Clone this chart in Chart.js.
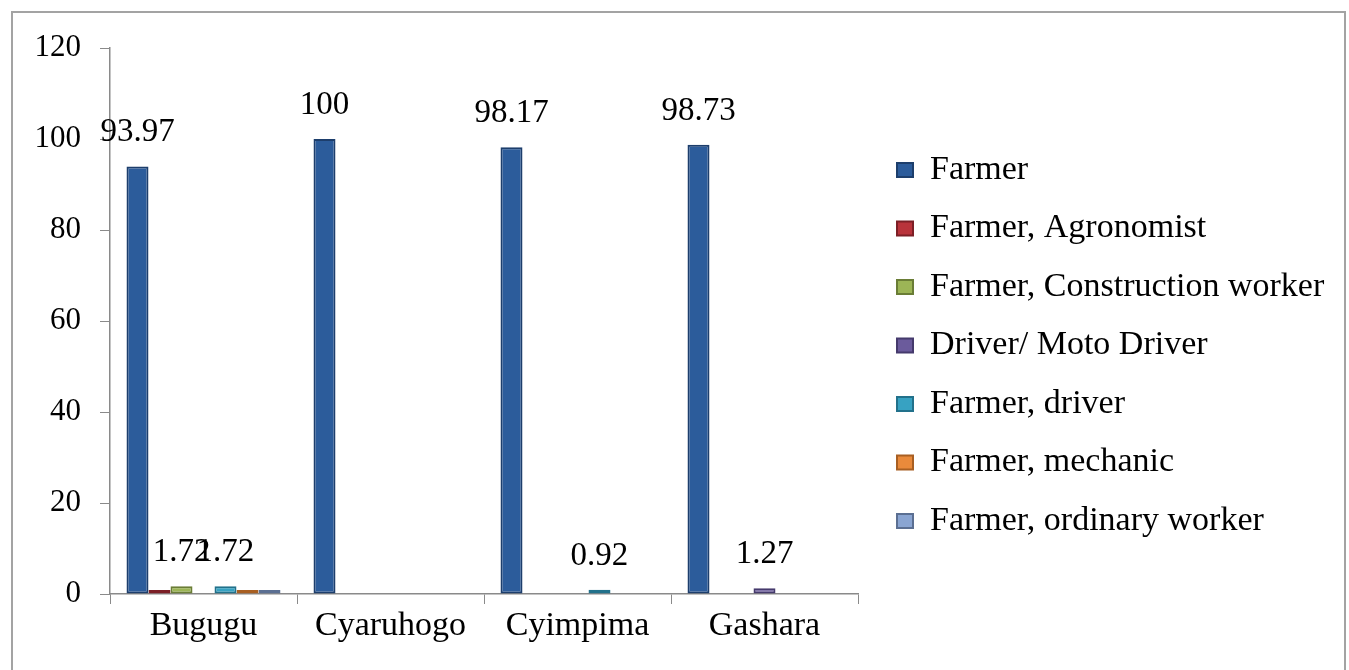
<!DOCTYPE html>
<html>
<head>
<meta charset="utf-8">
<title>Occupation by cell</title>
<script src="https://cdn.jsdelivr.net/npm/chart.js@4.4.0/dist/chart.umd.min.js"></script>
<style>
  html, body { margin: 0; padding: 0; background: #ffffff; overflow: hidden; }
  #wrap { position: relative; width: 1349px; height: 670px; }
  #wrap canvas { position: absolute; left: 0; top: 0; }
  #frame {
    position: absolute; left: 11px; top: 11px; width: 1335px; height: 700px;
    border: 2px solid #a3a3a3; box-sizing: border-box; pointer-events: none;
  }
</style>
</head>
<body>
<div id="wrap">
  <canvas id="chart" width="1349" height="670"></canvas>
  <div id="frame"></div>
</div>
<script>
// Cells along the x axis
const categories = ['Bugugu', 'Cyaruhogo', 'Cyimpima', 'Gashara'];

// Occupation shares (%) per cell
const farmer             = [93.97, 100, 98.17, 98.73];
const farmerAgronomist   = [0.86, 0, 0, 0];
const farmerConstruction = [1.72, 0, 0, 0];
const driverMoto         = [0, 0, 0, 1.27];
const farmerDriver       = [1.72, 0, 0.92, 0];
const farmerMechanic     = [0.86, 0, 0, 0];
const farmerOrdinary     = [0.86, 0, 0, 0];

// Series names as they appear in the legend
const seriesNames = [
  'Farmer',
  'Farmer, Agronomist',
  'Farmer, Construction worker',
  'Driver/ Moto Driver',
  'Farmer, driver',
  'Farmer, mechanic',
  'Farmer, ordinary worker'
];

// Series whose bars carry a value label
const labelledSeries = [true, false, true, true, true, false, false];

// Value axis ticks
const yTicks = [0, 20, 40, 60, 80, 100, 120];

const fills   = ['#2c5c9b', '#b9333b', '#9cb556', '#6b5b9c', '#37a2c2', '#e98a3b', '#8aa5d2'];
const borders = ['#1d3e6c', '#7c1f26', '#6a7d36', '#453a6c', '#22718b', '#a85f22', '#5b6f92'];

const serif = '"Liberation Serif", "Times New Roman", serif';

const seriesData = [farmer, farmerAgronomist, farmerConstruction, driverMoto,
                    farmerDriver, farmerMechanic, farmerOrdinary];

const datasets = seriesNames.map((name, i) => ({
  label: name,
  data: seriesData[i],
  backgroundColor: fills[i],
  borderColor: borders[i],
  borderWidth: 2,
  borderSkipped: false,
  categoryPercentage: 0.8235,
  barPercentage: 1.0
}));

// Writes the value above each labelled, non-zero bar
const valueLabels = {
  id: 'valueLabels',
  afterDatasetsDraw(chart) {
    const ctx = chart.ctx;
    ctx.save();
    ctx.font = '33px ' + serif;
    ctx.fillStyle = '#000000';
    ctx.textAlign = 'center';
    ctx.textBaseline = 'alphabetic';
    chart.data.datasets.forEach((ds, di) => {
      if (!labelledSeries[di]) return;
      const meta = chart.getDatasetMeta(di);
      meta.data.forEach((bar, i) => {
        const v = ds.data[i];
        if (!v) return;
        ctx.fillText(String(v), bar.x, bar.y - 25);
      });
    });
    ctx.restore();
  }
};

// Places the legend block to the right of the plot
const legendPlacement = {
  id: 'legendPlacement',
  afterLayout(chart) {
    const lg = chart.legend;
    if (!lg) return;
    const w = lg.width, h = lg.height;
    lg.left = 872.5;
    lg.top = 128.5;
    lg.right = lg.left + w;
    lg.bottom = lg.top + h;
  }
};

new Chart(document.getElementById('chart'), {
  type: 'bar',
  data: { labels: categories, datasets },
  plugins: [valueLabels, legendPlacement],
  options: {
    responsive: false,
    animation: false,
    events: [],
    layout: { padding: { left: 0, top: 48, right: 491, bottom: 0 } },
    plugins: {
      legend: {
        position: 'chartArea',
        align: 'start',
        labels: {
          boxWidth: 16,
          boxHeight: 14,
          padding: 24.5,
          color: '#000000',
          font: { family: serif, size: 34 }
        }
      },
      tooltip: { enabled: false }
    },
    scales: {
      x: {
        grid: { offset: true, drawOnChartArea: false, tickLength: 10, color: '#8a8a8a', lineWidth: 1 },
        border: { color: '#8a8a8a', width: 1.5 },
        ticks: { color: '#000000', padding: 2, font: { family: serif, size: 34 } },
        afterFit(scale) { scale.height = 76; }
      },
      y: {
        min: 0,
        max: 120,
        grid: { drawOnChartArea: false, tickLength: 10, color: '#8a8a8a', lineWidth: 1 },
        border: { color: '#8a8a8a', width: 1.5 },
        ticks: { color: '#000000', padding: 19, font: { family: serif, size: 31 } },
        afterBuildTicks(scale) { scale.ticks = yTicks.map(v => ({ value: v })); },
        afterFit(scale) { scale.width = 110; }
      }
    }
  }
});
</script>
</body>
</html>
